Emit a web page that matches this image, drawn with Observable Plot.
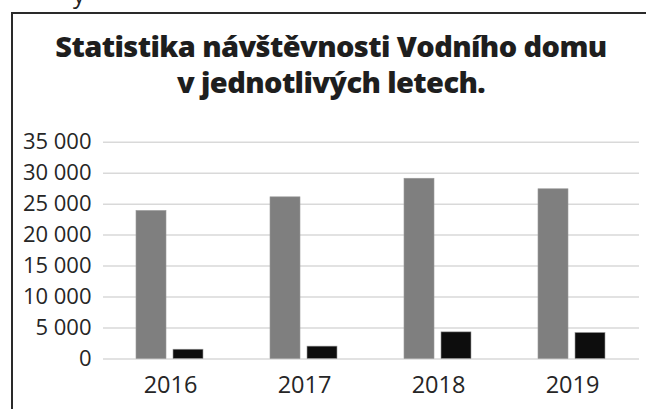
<!DOCTYPE html>
<html>
<head>
<meta charset="utf-8">
<script src="https://cdn.jsdelivr.net/npm/d3@7"></script>
<script src="https://cdn.jsdelivr.net/npm/@observablehq/plot@0.6"></script>
<style>
  html, body { margin: 0; padding: 0; background: #fff; width: 646px; height: 409px; overflow: hidden; position: relative; }
  #frag { position: absolute; left: 73px; top: -18px; font: 24px/24px "Open Sans", sans-serif; color: #222; }
  #frame { position: absolute; left: 11px; top: 12px; width: 640px; height: 400px; border-top: 2px solid #2a2a2a; border-left: 2px solid #2a2a2a; }
  #title { position: absolute; left: 12px; width: 638px; top: 28px; text-align: center; font-family: "Open Sans", sans-serif; font-weight: 800; font-size: 29px; letter-spacing: -0.6px; line-height: 36px; color: #1e1e1e; }
  #chart { position: absolute; left: 0; top: 120px; }
  #chart svg g[aria-label="fx-axis tick label"] text { font-size: 23.5px; }
</style>
</head>
<body>
<div id="frag">y</div>
<div id="frame"></div>
<div id="title">Statistika návštěvnosti Vodního domu<br>v jednotlivých letech.</div>
<div id="chart"></div>
<script>
const years = ["2016", "2017", "2018", "2019"];
const seriesNames = ["Série 1", "Série 2"];
const series1Values = [23900, 26100, 29100, 27400];
const series2Values = [1500, 2000, 4300, 4200];
const yTicks = [0, 5000, 10000, 15000, 20000, 25000, 30000, 35000];
const yTickLabels = ["0", "5 000", "10 000", "15 000", "20 000", "25 000", "30 000", "35 000"];

const data = [];
years.forEach((yr, i) => {
  data.push({year: yr, series: seriesNames[0], value: series1Values[i]});
  data.push({year: yr, series: seriesNames[1], value: series2Values[i]});
});

const chart = Plot.plot({
  width: 646,
  height: 289,
  marginTop: 21.7,
  marginBottom: 50.5,
  marginLeft: 102,
  marginRight: 7,
  style: {fontFamily: "'Open Sans', sans-serif", fontSize: "22px", color: "#262626", background: "transparent"},
  fx: {domain: years, padding: 0, label: null, axis: "bottom", tickSize: 0, tickPadding: 17},
  x: {domain: seriesNames, paddingInner: 0.184, paddingOuter: 0.858, axis: null},
  y: {domain: [0, 35000], ticks: yTicks, tickFormat: d => yTickLabels[yTicks.indexOf(d)], label: null, tickSize: 0, tickPadding: 12},
  color: {domain: seriesNames, range: ["#7f7f7f", "#0d0d0d"]},
  marks: [
    Plot.gridY(yTicks, {stroke: "#d9d9d9", strokeOpacity: 1, strokeWidth: 1.5}),
    Plot.barY(data, {fx: "year", x: "series", y: "value", fill: "series", stroke: "#9a9a9a", strokeWidth: 0.6})
  ]
});
document.getElementById("chart").appendChild(chart);
</script>
</body>
</html>
